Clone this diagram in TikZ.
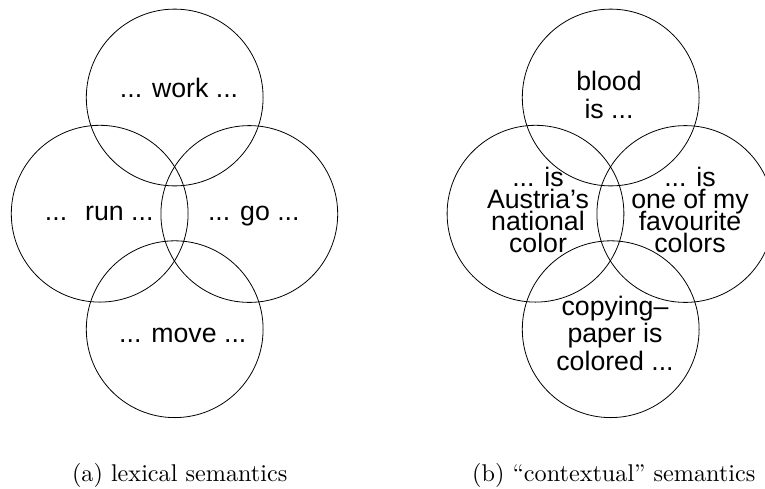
\documentclass[tikz,border=0pt]{standalone}
\usepackage{fontspec}
\newfontfamily\labelfont{Liberation Sans}
\newcommand\loosestack{\lineskiplimit=-100pt\relax}
\begin{document}
\begin{tikzpicture}[x=1pt,y=-1pt,
  ring/.style={circle, draw, line width=0.8pt, minimum size=176.8pt, inner sep=0pt},
  word/.style={font=\labelfont\fontsize{26.7}{27.6}\selectfont\loosestack,
               align=center, inner sep=0pt, anchor=base},
  tightword/.style={word, font=\labelfont\fontsize{26.7}{21.9}\selectfont\loosestack},
  caption/.style={font=\rmfamily\fontsize{10}{12}\selectfont, inner sep=0pt, anchor=base}]
\useasboundingbox (0,0) rectangle (765,488);

% (a) lexical semantics
\node[ring] (work) at (174.7,97.5) {};
\node[ring] (run)  at (99.7,213.7) {};
\node[ring] (go)   at (249.3,214) {};
\node[ring] (move) at (174.7,329.2) {};
\node[word] (workt) at (179,97.3)    {... work ...};
\node[word] (runt)  at (99.2,220.7)  {...\hspace{18pt}run ...};
\node[word] (got)   at (253.8,220.7) {... go ...};
\node[word] (movet) at (182.8,342.7) {... move ...};
\node[caption] (capa) at (179.7,481) {\scalebox{2.42}{(a) lexical semantics}};

% (b) "contextual" semantics; multi-line labels are placed by their last baseline
\node[ring] (blood)  at (610.7,97.5) {};
\node[ring] (austria) at (535.5,213.7) {};
\node[ring] (fav)    at (685.3,214) {};
\node[ring] (paper)  at (610.7,329.2) {};
\node[word] (bloodt) at (609,118.3) {blood\\is ...};
\node[tightword] (austriat) at (538,252.4) {... is\\Austria’s\\national\\color};
\node[tightword] (favt) at (690,252.4) {... is\\one of my\\favourite\\colors};
\node[word] (papert) at (615,370.5) {copying–\\paper is\\colored ...};
\node[caption] (capb) at (613.8,481) {\scalebox{2.42}{(b) “contextual” semantics}};
\end{tikzpicture}
\end{document}
